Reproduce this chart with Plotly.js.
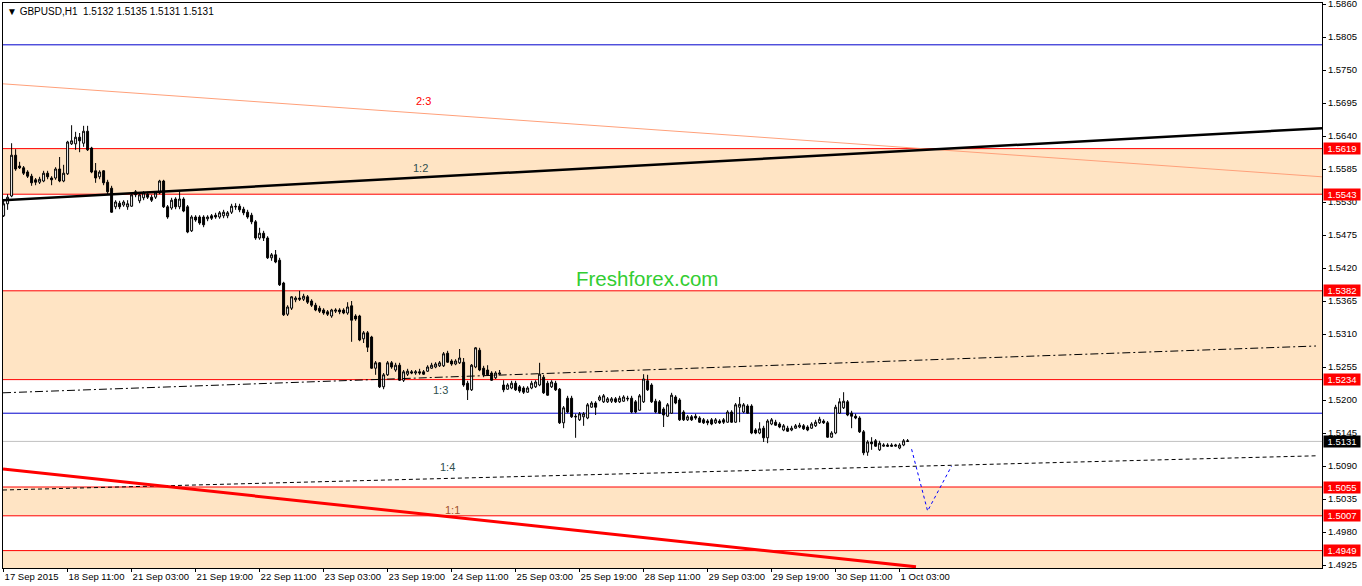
<!DOCTYPE html>
<html>
<head>
<meta charset="utf-8">
<script src="https://cdn.plot.ly/plotly-3.0.1.min.js"></script>
<style>
html,body{margin:0;padding:0;background:#ffffff;}
#chart{width:1362px;height:586px;}
</style>
</head>
<body>
<div id="chart"></div>
<script>
// ---- data ----
const symbolTitle = "\u25BC GBPUSD,H1\u00a0\u00a01.5132 1.5135 1.5131 1.5131";

const openP = [
1.5507,1.5527,1.5540,1.5608,1.5590,1.5587,1.5580,1.5573,1.5567,1.5563,
1.5565,1.5578,1.5570,1.5570,1.5585,1.5565,1.5577,1.5627,1.5627,1.5638,
1.5628,1.5648,1.5620,1.5582,1.5572,1.5582,1.5563,1.5553,1.5522,1.5528,
1.5525,1.5522,1.5523,1.5547,1.5532,1.5537,1.5543,1.5538,1.5538,1.5545,
1.5565,1.5522,1.5520,1.5535,1.5522,1.5535,1.5522,1.5482,1.5505,1.5505,
1.5505,1.5502,1.5507,1.5508,1.5505,1.5507,1.5507,1.5513,1.5523,1.5523,
1.5518,1.5513,1.5508,1.5497,1.5470,1.5478,1.5470,1.5437,1.5442,1.5433,
1.5395,1.5343,1.5353,1.5367,1.5370,1.5368,1.5372,1.5365,1.5358,1.5353,
1.5350,1.5347,1.5340,1.5348,1.5350,1.5350,1.5345,1.5357,1.5340,1.5340,
1.5302,1.5312,1.5305,1.5253,1.5262,1.5222,1.5242,1.5262,1.5250,1.5258,
1.5233,1.5243,1.5247,1.5245,1.5247,1.5247,1.5248,1.5253,1.5255,1.5257,
1.5257,1.5278,1.5265,1.5260,1.5262,1.5263,1.5228,1.5217,1.5255,1.5283,
1.5253,1.5250,1.5245,1.5237,1.5243,1.5225,1.5218,1.5220,1.5228,1.5222,
1.5220,1.5213,1.5220,1.5222,1.5225,1.5238,1.5228,1.5222,1.5228,1.5218,
1.5162,1.5203,1.5203,1.5173,1.5167,1.5172,1.5170,1.5188,1.5195,1.5200,
1.5197,1.5197,1.5198,1.5202,1.5197,1.5198,1.5203,1.5203,1.5197,1.5183,
1.5197,1.5232,1.5225,1.5198,1.5197,1.5185,1.5173,1.5178,1.5205,1.5200,
1.5180,1.5167,1.5172,1.5173,1.5170,1.5167,1.5165,1.5167,1.5162,1.5165,
1.5167,1.5163,1.5180,1.5163,1.5188,1.5180,1.5190,1.5190,1.5150,1.5145,
1.5153,1.5137,1.5160,1.5163,1.5160,1.5150,1.5153,1.5150,1.5153,1.5155,
1.5157,1.5155,1.5153,1.5157,1.5162,1.5165,1.5162,1.5138,1.5145,1.5178,
1.5187,1.5197,1.5178,1.5173,1.5170,1.5147,1.5113,1.5130,1.5132,1.5117,
1.5123,1.5125,1.5125,1.5123,1.5120,1.5125,1.5132
];
const highP = [
1.5535,1.5543,1.5628,1.5618,1.5597,1.5590,1.5583,1.5577,1.5570,1.5572,
1.5582,1.5582,1.5573,1.5588,1.5605,1.5592,1.5632,1.5658,1.5647,1.5645,
1.5657,1.5657,1.5622,1.5595,1.5583,1.5583,1.5567,1.5557,1.5533,1.5532,
1.5533,1.5533,1.5545,1.5550,1.5545,1.5548,1.5547,1.5542,1.5548,1.5567,
1.5567,1.5525,1.5537,1.5538,1.5548,1.5538,1.5525,1.5508,1.5508,1.5508,
1.5508,1.5508,1.5510,1.5512,1.5515,1.5517,1.5515,1.5527,1.5528,1.5527,
1.5522,1.5517,1.5512,1.5500,1.5487,1.5482,1.5473,1.5445,1.5450,1.5437,
1.5397,1.5358,1.5373,1.5373,1.5382,1.5377,1.5375,1.5368,1.5362,1.5357,
1.5353,1.5350,1.5352,1.5353,1.5353,1.5353,1.5363,1.5365,1.5343,1.5342,
1.5315,1.5315,1.5307,1.5265,1.5263,1.5245,1.5265,1.5265,1.5262,1.5262,
1.5250,1.5252,1.5250,1.5250,1.5252,1.5250,1.5258,1.5262,1.5263,1.5265,
1.5280,1.5282,1.5268,1.5268,1.5285,1.5270,1.5232,1.5260,1.5288,1.5287,
1.5257,1.5258,1.5248,1.5248,1.5250,1.5233,1.5228,1.5232,1.5232,1.5225,
1.5223,1.5223,1.5232,1.5233,1.5262,1.5242,1.5232,1.5233,1.5232,1.5220,
1.5190,1.5207,1.5207,1.5177,1.5180,1.5180,1.5195,1.5198,1.5198,1.5208,
1.5210,1.5205,1.5205,1.5205,1.5207,1.5208,1.5207,1.5207,1.5200,1.5210,
1.5243,1.5242,1.5228,1.5202,1.5200,1.5188,1.5195,1.5212,1.5208,1.5203,
1.5183,1.5175,1.5175,1.5177,1.5173,1.5170,1.5168,1.5170,1.5170,1.5168,
1.5170,1.5183,1.5183,1.5195,1.5205,1.5195,1.5193,1.5193,1.5153,1.5163,
1.5157,1.5168,1.5170,1.5167,1.5163,1.5160,1.5157,1.5157,1.5160,1.5162,
1.5160,1.5158,1.5163,1.5167,1.5172,1.5168,1.5165,1.5148,1.5192,1.5203,
1.5213,1.5200,1.5182,1.5177,1.5173,1.5150,1.5133,1.5138,1.5135,1.5132,
1.5128,1.5128,1.5128,1.5127,1.5128,1.5135,1.5135
];
const lowP = [
1.5505,1.5517,1.5538,1.5582,1.5585,1.5575,1.5570,1.5557,1.5558,1.5560,
1.5563,1.5568,1.5558,1.5567,1.5563,1.5563,1.5575,1.5625,1.5617,1.5613,
1.5622,1.5615,1.5578,1.5562,1.5568,1.5558,1.5543,1.5512,1.5518,1.5518,
1.5522,1.5517,1.5522,1.5538,1.5528,1.5533,1.5535,1.5530,1.5535,1.5543,
1.5520,1.5502,1.5517,1.5518,1.5518,1.5513,1.5478,1.5480,1.5497,1.5492,
1.5488,1.5498,1.5500,1.5502,1.5502,1.5503,1.5503,1.5510,1.5517,1.5513,
1.5508,1.5502,1.5493,1.5467,1.5467,1.5465,1.5435,1.5432,1.5428,1.5390,
1.5340,1.5340,1.5350,1.5363,1.5365,1.5365,1.5360,1.5355,1.5348,1.5345,
1.5342,1.5340,1.5337,1.5345,1.5343,1.5343,1.5342,1.5297,1.5332,1.5298,
1.5295,1.5280,1.5252,1.5242,1.5220,1.5218,1.5240,1.5252,1.5247,1.5232,
1.5230,1.5240,1.5243,1.5242,1.5242,1.5242,1.5247,1.5252,1.5253,1.5255,
1.5255,1.5262,1.5257,1.5258,1.5260,1.5222,1.5200,1.5215,1.5253,1.5248,
1.5238,1.5240,1.5232,1.5235,1.5242,1.5213,1.5217,1.5218,1.5215,1.5212,
1.5210,1.5212,1.5218,1.5220,1.5223,1.5210,1.5207,1.5220,1.5215,1.5160,
1.5153,1.5178,1.5170,1.5137,1.5165,1.5157,1.5168,1.5187,1.5175,1.5198,
1.5195,1.5195,1.5195,1.5195,1.5195,1.5197,1.5198,1.5178,1.5178,1.5182,
1.5195,1.5215,1.5195,1.5178,1.5177,1.5155,1.5172,1.5177,1.5193,1.5165,
1.5165,1.5165,1.5165,1.5167,1.5162,1.5160,1.5158,1.5158,1.5160,1.5160,
1.5160,1.5162,1.5162,1.5162,1.5163,1.5178,1.5177,1.5143,1.5143,1.5143,
1.5130,1.5128,1.5158,1.5157,1.5153,1.5148,1.5147,1.5148,1.5152,1.5153,
1.5150,1.5148,1.5152,1.5155,1.5160,1.5160,1.5137,1.5137,1.5143,1.5177,
1.5185,1.5173,1.5153,1.5168,1.5145,1.5108,1.5107,1.5117,1.5122,1.5115,
1.5122,1.5122,1.5122,1.5122,1.5118,1.5123,1.5131
];
const closeP = [
1.5527,1.5538,1.5608,1.5585,1.5587,1.5578,1.5573,1.5562,1.5563,1.5568,
1.5578,1.5572,1.5567,1.5585,1.5565,1.5578,1.5630,1.5632,1.5638,1.5632,
1.5648,1.5617,1.5580,1.5570,1.5580,1.5562,1.5547,1.5513,1.5530,1.5522,
1.5530,1.5527,1.5542,1.5542,1.5542,1.5545,1.5538,1.5533,1.5545,1.5565,
1.5522,1.5505,1.5533,1.5522,1.5535,1.5515,1.5480,1.5505,1.5500,1.5495,
1.5492,1.5505,1.5503,1.5505,1.5512,1.5513,1.5512,1.5523,1.5522,1.5517,
1.5512,1.5505,1.5497,1.5470,1.5478,1.5470,1.5437,1.5442,1.5430,1.5392,
1.5342,1.5355,1.5372,1.5370,1.5368,1.5373,1.5363,1.5358,1.5350,1.5348,
1.5345,1.5343,1.5350,1.5350,1.5347,1.5345,1.5355,1.5333,1.5335,1.5300,
1.5312,1.5288,1.5253,1.5262,1.5222,1.5242,1.5262,1.5255,1.5258,1.5233,
1.5247,1.5248,1.5245,1.5247,1.5245,1.5243,1.5255,1.5258,1.5260,1.5262,
1.5277,1.5263,1.5260,1.5265,1.5270,1.5225,1.5217,1.5258,1.5287,1.5250,
1.5242,1.5242,1.5233,1.5245,1.5245,1.5217,1.5225,1.5228,1.5217,1.5215,
1.5213,1.5220,1.5228,1.5230,1.5243,1.5212,1.5208,1.5230,1.5217,1.5162,
1.5187,1.5180,1.5172,1.5172,1.5177,1.5177,1.5192,1.5195,1.5188,1.5205,
1.5207,1.5202,1.5202,1.5197,1.5203,1.5205,1.5202,1.5180,1.5180,1.5207,
1.5235,1.5217,1.5197,1.5180,1.5178,1.5175,1.5192,1.5208,1.5195,1.5167,
1.5167,1.5172,1.5167,1.5170,1.5163,1.5162,1.5162,1.5160,1.5167,1.5162,
1.5163,1.5180,1.5163,1.5192,1.5193,1.5192,1.5178,1.5145,1.5145,1.5152,
1.5137,1.5165,1.5167,1.5158,1.5155,1.5157,1.5148,1.5153,1.5157,1.5158,
1.5152,1.5150,1.5160,1.5163,1.5168,1.5162,1.5138,1.5145,1.5188,1.5197,
1.5198,1.5175,1.5173,1.5170,1.5147,1.5112,1.5130,1.5127,1.5123,1.5128,
1.5125,1.5123,1.5123,1.5125,1.5125,1.5132,1.5131
];

// time axis labels (one every 16 hourly bars)
const timeTickIdx = [0,16,32,48,64,80,96,112,128,144,160,176,192,208,224];
const timeTickText = ["17 Sep 2015","18 Sep 11:00","21 Sep 03:00","21 Sep 19:00","22 Sep 11:00",
  "23 Sep 03:00","23 Sep 19:00","24 Sep 11:00","25 Sep 03:00","25 Sep 19:00","28 Sep 11:00",
  "29 Sep 03:00","29 Sep 19:00","30 Sep 11:00","1 Oct 03:00"];

// price scale labels
const priceTicks = [1.4925,1.4980,1.5035,1.5090,1.5145,1.5200,1.5255,1.5310,1.5365,
  1.5420,1.5475,1.5530,1.5585,1.5640,1.5695,1.5750,1.5805,1.5860];

// horizontal levels
const redLevels = [1.5619,1.5543,1.5382,1.5234,1.5055,1.5007,1.4949];
const zoneLow  = [1.5543,1.5234,1.5007,1.4900];
const zoneHigh = [1.5619,1.5382,1.5055,1.4949];
const blueLevels = [1.5792,1.5178];
const lastPrice = 1.5131;

// trend lines (bar index, price)
const line12X = [-0.15,329.6], line12Y = [1.5533,1.5653];
const line23X = [-0.15,329.6], line23Y = [1.5727,1.5572];
const line13X = [-0.15,328.1], line13Y = [1.5212,1.5290];
const line14X = [-0.15,328.1], line14Y = [1.5050,1.5107];
const line11X = [-0.15,228.1], line11Y = [1.5085,1.4922];
const projX = [227,231,237], projY = [1.5118,1.5015,1.5090];

// ---- build chart ----
const FONT = "Liberation Sans, Arial, sans-serif";
const barIdx = openP.map((_, i) => i);
const yMin = 1.4920, yMax = 1.58617;

function lineTrace(x, y, color, width, dash) {
  return {type:'scatter', mode:'lines', x:x, y:y, hoverinfo:'skip',
          line:{color:color, width:width, dash:dash||'solid'}, showlegend:false};
}

const traces = [
  lineTrace(line23X, line23Y, '#FFA07A', 1),
  lineTrace(line13X, line13Y, '#000000', 1, '8px,3px,2px,3px'),
  lineTrace(line14X, line14Y, '#000000', 1, '4px,3px'),
  lineTrace(line11X, line11Y, '#FF0000', 3),
  lineTrace(line12X, line12Y, '#000000', 2.5),
  lineTrace(projX, projY, '#0000FF', 1, '3px,3px'),
  {
    type:'candlestick', x:barIdx, open:openP, high:highP, low:lowP, close:closeP,
    increasing:{line:{color:'#000000', width:1}, fillcolor:'#FFFFFF'},
    decreasing:{line:{color:'#000000', width:1}, fillcolor:'#000000'},
    whiskerwidth:0, hoverinfo:'skip', showlegend:false
  }
];

const shapes = [];
zoneLow.forEach((lo, k) => {
  shapes.push({type:'rect', xref:'paper', x0:0, x1:1, yref:'y', y0:lo, y1:zoneHigh[k],
               fillcolor:'#FFE4C4', line:{width:0}, layer:'below'});
});
redLevels.forEach(v => shapes.push({type:'line', xref:'paper', x0:0, x1:1, yref:'y', y0:v, y1:v,
  line:{color:'#FF0000', width:1}, layer:'below'}));
blueLevels.forEach(v => shapes.push({type:'line', xref:'paper', x0:0, x1:1, yref:'y', y0:v, y1:v,
  line:{color:'#0000CD', width:1}, layer:'below'}));
shapes.push({type:'line', xref:'paper', x0:0, x1:1, yref:'y', y0:lastPrice, y1:lastPrice,
  line:{color:'#C0C0C0', width:1}, layer:'below'});

const annotations = [];
function priceBox(v, bg) {
  return {xref:'paper', x:1, xanchor:'left', xshift:1, yref:'y', y:v, yanchor:'middle',
          text:v.toFixed(4), showarrow:false, bgcolor:bg, borderpad:1, width:34, height:9,
          align:'center', font:{family:FONT, size:9.5, color:'#FFFFFF'}};
}
redLevels.forEach(v => annotations.push(priceBox(v, '#FF0000')));
annotations.push(priceBox(lastPrice, '#000000'));

function lineLabel(txt, x, y, color) {
  return {xref:'x', yref:'y', x:x, y:y, text:txt, showarrow:false, xanchor:'center', yanchor:'middle',
          font:{family:FONT, size:11, color:color}};
}
annotations.push(lineLabel('2:3', 104.85, 1.56983, '#FF0000'));
annotations.push(lineLabel('1:2', 104.1, 1.55875, '#2F4F4F'));
annotations.push(lineLabel('1:3', 109.1, 1.52167, '#2F4F4F'));
annotations.push(lineLabel('1:4', 110.85, 1.50883, '#2F4F4F'));
annotations.push(lineLabel('1:1', 112.1, 1.50167, '#A0522D'));
annotations.push({xref:'x', yref:'y', x:160.85, y:1.54017, text:'Freshforex.com', showarrow:false,
  xanchor:'center', yanchor:'middle', font:{family:FONT, size:20.5, color:'#32CD32'}});

const layout = {
  width:1362, height:586,
  margin:{l:3, r:40, t:3, b:18, pad:0},
  paper_bgcolor:'#FFFFFF', plot_bgcolor:'#FFFFFF',
  font:{family:FONT, size:9.5, color:'#000000'},
  showlegend:false, hovermode:false, dragmode:false,
  title:{text:symbolTitle, xref:'container', x:7/1362, xanchor:'left',
         yref:'container', y:1-11/586, yanchor:'middle',
         font:{family:FONT, size:10, color:'#000000'}},
  xaxis:{range:[-0.15, 329.6], type:'linear', tickvals:timeTickIdx, ticktext:timeTickText,
         ticks:'outside', ticklen:3, tickcolor:'#000000', ticklabelposition:'outside right',
         tickangle:0, ticklabeloverflow:'allow',
         showline:true, linecolor:'#000000', linewidth:1, mirror:true,
         showgrid:false, zeroline:false, rangeslider:{visible:false}, fixedrange:true,
         automargin:false, tickfont:{family:FONT, size:9.5, color:'#000000'}},
  yaxis:{range:[yMin, yMax], side:'right', tickvals:priceTicks,
         ticktext:priceTicks.map(v => v.toFixed(4)), ticklabeloverflow:'allow',
         ticks:'outside', ticklen:3, tickcolor:'#000000',
         showline:true, linecolor:'#000000', linewidth:1, mirror:true,
         showgrid:false, zeroline:false, fixedrange:true, automargin:false,
         tickfont:{family:FONT, size:9.5, color:'#000000'}},
  shapes:shapes,
  annotations:annotations
};

Plotly.newPlot('chart', traces, layout, {staticPlot:true, displayModeBar:false});
</script>
</body>
</html>
